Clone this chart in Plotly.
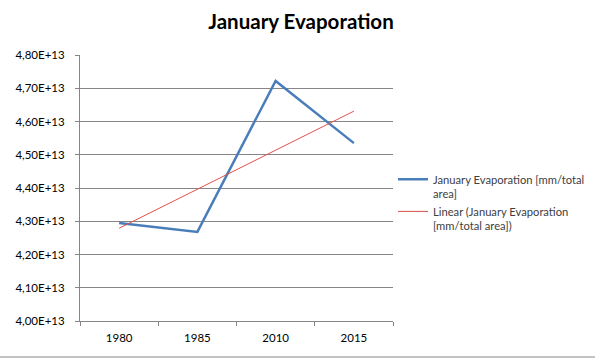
import numpy as np
import plotly.graph_objects as go

categories = ["1980", "1985", "2010", "2015"]
evaporation = [4.295e13, 4.268e13, 4.722e13, 4.535e13]
tick_vals = [4.0e13, 4.1e13, 4.2e13, 4.3e13, 4.4e13, 4.5e13, 4.6e13, 4.7e13, 4.8e13]
tick_text = ["4,00E+13", "4,10E+13", "4,20E+13", "4,30E+13", "4,40E+13",
             "4,50E+13", "4,60E+13", "4,70E+13", "4,80E+13"]

# Linear trendline (least squares on category index, as Excel does)
idx = np.arange(1, len(evaporation) + 1)
slope, intercept = np.polyfit(idx, evaporation, 1)
trend = list(slope * idx + intercept)

FONT = "Lato"
fig = go.Figure()
fig.add_trace(go.Scatter(
    x=categories, y=evaporation, mode="lines",
    line=dict(color="#4a7ebb", width=2.5),
    name="January Evaporation [mm/total<br>area]"))
fig.add_trace(go.Scatter(
    x=categories, y=trend, mode="lines",
    line=dict(color="#d9504d", width=1),
    name="Linear (January Evaporation<br>[mm/total area])"))

fig.update_layout(
    width=595, height=363,
    paper_bgcolor="white", plot_bgcolor="white",
    margin=dict(l=80, r=202, t=55, b=42, autoexpand=False),
    title=dict(text="<b>January Evaporation</b>", x=301 / 595, xanchor="center",
               y=1 - 22 / 363, yanchor="middle",
               font=dict(family=FONT, size=20.5, color="#000000")),
    font=dict(family=FONT, size=11, color="#404040"),
    showlegend=True,
    legend=dict(x=(393 - 80) / 313, xanchor="left", y=(321 - 203) / 266, yanchor="middle",
                valign="top",
                font=dict(family=FONT, size=11.2, color="#404040"),
                bgcolor="rgba(0,0,0,0)", tracegroupgap=6, itemwidth=30),
    xaxis=dict(type="category", showgrid=False, showline=True,
               linecolor="#868686", linewidth=1,
               ticks="outside", ticklen=4, tickcolor="#868686",
               tickson="boundaries", tickfont=dict(family=FONT, size=11.5, color="#000000"),
               ticklabelstandoff=6,
               range=[-0.5, 3.5], fixedrange=True),
    yaxis=dict(range=[4.0e13, 4.8e13], tickvals=tick_vals, ticktext=tick_text,
               showgrid=True, gridcolor="#868686", gridwidth=1,
               showline=True, linecolor="#868686", linewidth=1,
               ticks="outside", ticklen=4, tickcolor="#868686",
               tickfont=dict(family=FONT, size=11.5, color="#000000"),
               ticklabelstandoff=8,
               zeroline=False, automargin=False),
)
fig.add_shape(type="line", xref="paper", yref="paper",
              x0=-80 / 313, x1=(595 - 80) / 313, y0=-36 / 266, y1=-36 / 266,
              line=dict(color="#868686", width=1))
fig.write_html("out.html", config={"displayModeBar": False},
               post_script="document.body.style.margin='0';document.body.style.padding='0';")
